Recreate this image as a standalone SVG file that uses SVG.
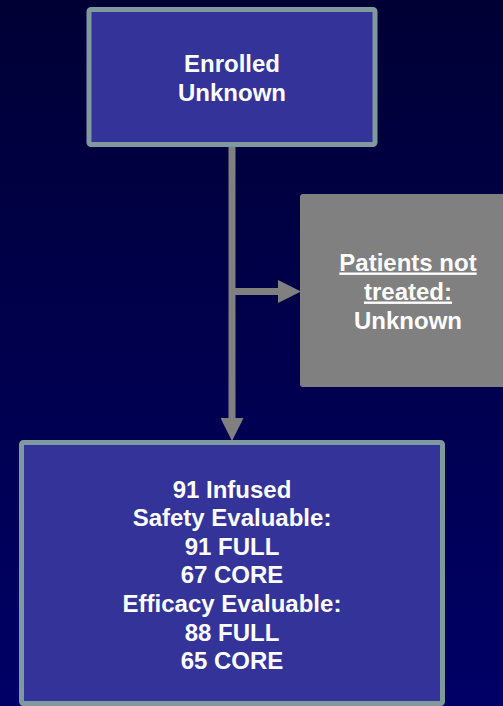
<svg xmlns="http://www.w3.org/2000/svg" width="503" height="706" viewBox="0 0 503 706">
  <defs>
    <linearGradient id="bg" x1="0" y1="0" x2="0" y2="1">
      <stop offset="0" stop-color="#000035"/>
      <stop offset="1" stop-color="#000066"/>
    </linearGradient>
    <marker id="arrow" markerUnits="userSpaceOnUse" markerWidth="23" markerHeight="23" refX="0" refY="11.5" orient="auto" viewBox="0 0 23 23">
      <path d="M0,0 L23,11.5 L0,23 Z" fill="#808080"/>
    </marker>
    <style>
      .box { fill: #333399; stroke: #7f999f; stroke-width: 5; }
      .gray { fill: #808080; }
      .conn { stroke: #808080; stroke-width: 7; fill: none; }
      .t { font-family: "Liberation Sans", Arial, sans-serif; font-weight: bold; font-size: 24px; fill: #ffffff; text-anchor: middle; }
    </style>
  </defs>
  <rect x="0" y="0" width="503" height="706" fill="url(#bg)"/>
  <g id="connectors">
    <line class="conn" x1="232" y1="144" x2="232" y2="418" marker-end="url(#arrow)"/>
    <line class="conn" x1="232" y1="291.5" x2="278" y2="291.5" marker-end="url(#arrow)"/>
  </g>
  <g id="enrolled">
    <rect class="box" x="89" y="9.5" width="286" height="135" rx="2"/>
    <text class="t" x="232" y="71.5">Enrolled</text>
    <text class="t" x="232" y="100.5">Unknown</text>
  </g>
  <g id="not-treated">
    <rect class="gray" x="300" y="194" width="215" height="193" rx="3"/>
    <text class="t" x="408" y="270.5" text-decoration="underline">Patients not</text>
    <text class="t" x="408" y="299.5" text-decoration="underline">treated:</text>
    <text class="t" x="408" y="328.5">Unknown</text>
  </g>
  <g id="infused">
    <rect class="box" x="21.5" y="442.5" width="421" height="261" rx="2"/>
    <text class="t" x="232" y="497.5">91 Infused</text>
    <text class="t" x="232" y="526">Safety Evaluable:</text>
    <text class="t" x="232" y="554.5">91 FULL</text>
    <text class="t" x="232" y="583.3">67 CORE</text>
    <text class="t" x="232" y="612">Efficacy Evaluable:</text>
    <text class="t" x="232" y="640.7">88 FULL</text>
    <text class="t" x="232" y="669.3">65 CORE</text>
  </g>
</svg>
